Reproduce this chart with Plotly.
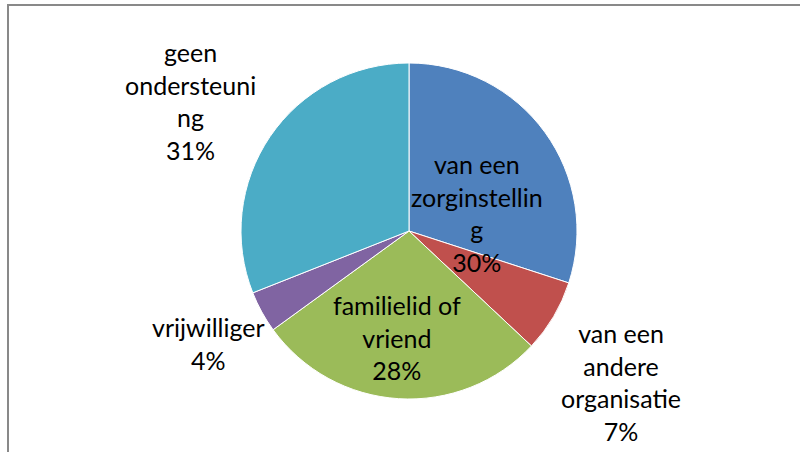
import plotly.graph_objects as go

categories = ["van een zorginstelling", "van een andere organisatie",
              "familielid of vriend", "vrijwilliger", "geen ondersteuning"]
values = [30, 7, 28, 4, 31]
wrapped = ["van een<br>zorginstellin<br>g", "van een<br>andere<br>organisatie",
           "familielid of<br>vriend", "vrijwilliger", "geen<br>ondersteuni<br>ng"]
colors = ["#4F81BD", "#C0504D", "#9BBB59", "#8064A2", "#4BACC6"]
label_pos = [(477, 213), (621, 382), (397, 337), (208, 343), (190, 101)]

W, H = 800, 452
fig = go.Figure(go.Pie(
    labels=categories, values=values, sort=False, direction="clockwise",
    rotation=0, marker=dict(colors=colors, line=dict(color="white", width=1)),
    textinfo="none", hoverinfo="label+percent",
    domain=dict(x=[241 / W, 577 / W], y=[(H - 399) / H, (H - 63) / H]),
))

total = sum(values)
for txt, v, (px, py) in zip(wrapped, values, label_pos):
    fig.add_annotation(
        x=px / W, y=1 - py / H, xref="paper", yref="paper",
        text=f"{txt}<br>{round(100 * v / total)}%", showarrow=False,
        font=dict(family="Lato", size=25, color="black"),
        align="center", xanchor="center", yanchor="middle",
    )

fig.add_shape(type="rect", xref="paper", yref="paper",
              x0=8 / W, x1=1.05, y0=-0.05, y1=1 - 5 / H,
              line=dict(color="#898989", width=2), fillcolor="rgba(0,0,0,0)")

fig.update_layout(width=W, height=H, margin=dict(l=0, r=0, t=0, b=0),
                  paper_bgcolor="white", plot_bgcolor="white", showlegend=False)
fig.write_html("out.html", config={"displayModeBar": False},
               post_script="document.body.style.margin='0';")
